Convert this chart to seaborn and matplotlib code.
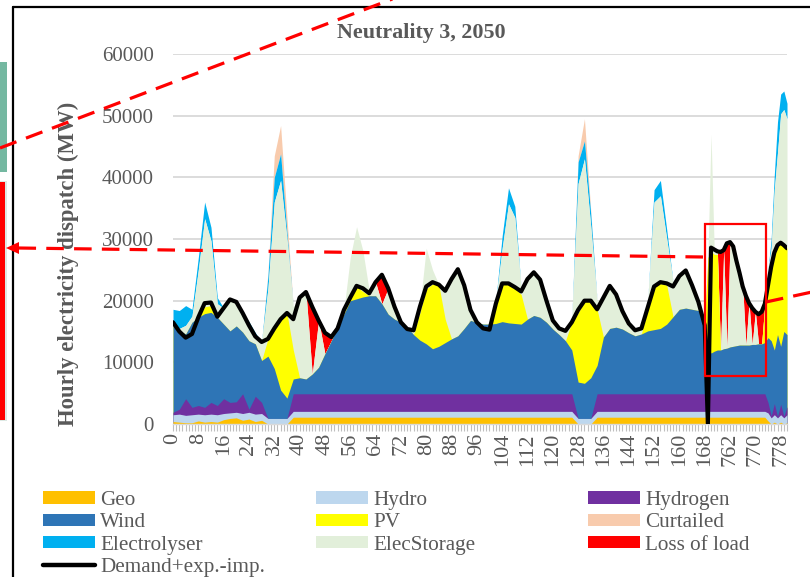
import numpy as np
import matplotlib
matplotlib.use("Agg")
import matplotlib.pyplot as plt
import seaborn as sns
from matplotlib.lines import Line2D
from matplotlib.patches import Rectangle, Polygon, Patch

# ---------------- data ----------------
# x-axis categories (hour ids): first week, then hours 755..780
hours = list(range(0, 169)) + list(range(755, 781))
# hours at which the values below were read
sample_hours = list(range(0, 169, 2)) + list(range(755, 781))

demand = [
    16500, 15000, 14000, 14600, 17300, 19600, 19700, 17400, 18800, 20200,
    19800, 18000, 16000, 14200, 13300, 13800, 15500, 17000, 18000, 17000,
    20500, 21400, 19000, 16800, 14800, 14100, 15500, 18500, 20500, 22400,
    22000, 21200, 23000, 24200, 22000, 19000, 16500, 15400, 15200, 19000,
    22300, 23000, 22600, 21600, 23500, 25100, 22500, 18500, 16500, 15500,
    15300, 19500, 22800, 22800, 22200, 21500, 23500, 24600, 23400, 20000,
    16800, 15500, 15100, 16500, 18500, 20000, 20000, 18600, 20500, 22400,
    21000, 18300, 16300, 15200, 15500, 18900, 22300, 23000, 22800, 22300,
    24000, 24900, 22500, 19800, 16000,
    0, 28600, 28300, 28000, 27900, 28200, 29300, 29500, 28800, 26500,
    24500, 22300, 20800, 19600, 18800, 18200, 17800, 18200, 19500, 22500,
    25500, 27800, 29000, 29400, 29000, 28500,
]

geo = [
    400, 300, 200, 200, 500, 300, 400, 300, 700, 900,
    1000, 600, 800, 400, 600, 0, 0, 0, 0, 1100,
    1100, 1100, 1100, 1100, 1100, 1100, 1100, 1100, 1100, 1100,
    1100, 1100, 1100, 1100, 1100, 1100, 1100, 1100, 1100, 1100,
    1100, 1100, 1100, 1100, 1100, 1100, 1100, 1100, 1100, 1100,
    1100, 1100, 1100, 1100, 1100, 1100, 1100, 1100, 1100, 1100,
    1100, 1100, 1100, 1100, 0, 0, 0, 1100, 1100, 1100,
    1100, 1100, 1100, 1100, 1100, 1100, 1100, 1100, 1100, 1100,
    1100, 1100, 1100, 1100, 1100,
    1100, 1100, 1100, 1100, 1100, 1100, 1100, 1100, 1100, 1100,
    1100, 1100, 1100, 1100, 1100, 1100, 1100, 1100, 1100, 500,
    0, 300, 0, 300, 0, 200,
]

hydro = [
    1100, 1300, 1200, 1300, 1100, 1200, 1200, 1200, 1000, 900,
    900, 1100, 1100, 1200, 1100, 900, 900, 900, 900, 950,
    950, 950, 950, 950, 950, 950, 950, 950, 950, 950,
    950, 950, 950, 950, 950, 950, 950, 950, 950, 950,
    950, 950, 950, 950, 950, 950, 950, 950, 950, 950,
    950, 950, 950, 950, 950, 950, 950, 950, 950, 950,
    950, 950, 950, 950, 900, 900, 900, 950, 950, 950,
    950, 950, 950, 950, 950, 950, 950, 950, 950, 950,
    950, 950, 950, 950, 950,
    950, 950, 950, 950, 950, 950, 950, 950, 950, 950,
    950, 950, 950, 950, 950, 950, 950, 950, 950, 1300,
    1000, 1200, 1000, 1200, 1000, 1300,
]

hydrogen = [
    400, 800, 2700, 1200, 1400, 1200, 1900, 1500, 2400, 1700,
    1700, 3200, 500, 2900, 1800, 0, 0, 0, 0, 2850,
    2850, 2850, 2850, 2850, 2850, 2850, 2850, 2850, 2850, 2850,
    2850, 2850, 2850, 2850, 2850, 2850, 2850, 2850, 2850, 2850,
    2850, 2850, 2850, 2850, 2850, 2850, 2850, 2850, 2850, 2850,
    2850, 2850, 2850, 2850, 2850, 2850, 2850, 2850, 2850, 2850,
    2850, 2850, 2850, 2850, 0, 0, 0, 2850, 2850, 2850,
    2850, 2850, 2850, 2850, 2850, 2850, 2850, 2850, 2850, 2850,
    2850, 2850, 2850, 2850, 2850,
    2850, 2850, 2850, 2850, 2850, 2850, 2850, 2850, 2850, 2850,
    2850, 2850, 2850, 2850, 2850, 2850, 2850, 2850, 2850, 1700,
    300, 1800, 200, 1700, 300, 1300,
]

# top edge of the wind area in the stacked chart
wind_level = [
    16200, 15100, 14600, 16500, 17300, 17900, 18100, 17300, 16200, 15100,
    15900, 14900, 13500, 13000, 10300, 11000, 9000, 5500, 4200, 7300,
    7500, 7300, 8100, 9200, 11400, 13500, 15700, 17800, 20000, 20300,
    20600, 20800, 20800, 19500, 17800, 17000, 16500, 15700, 14500, 13600,
    13000, 12200, 12600, 13200, 13800, 14300, 15500, 16800, 16500, 16200,
    16200, 16300, 16600, 16400, 16300, 16200, 17000, 17600, 17300, 16500,
    15400, 14500, 13500, 12000, 6800, 6600, 7500, 9500, 14100, 15500,
    15700, 15400, 14800, 14300, 14600, 15100, 15300, 15500, 16200, 17400,
    18600, 18800, 18600, 18400, 17000,
    12500, 11500, 11800, 12000, 12000, 12200, 12300, 12500, 12600, 12700,
    12800, 12800, 12800, 12800, 12900, 12900, 13000, 13000, 13200, 14000,
    13500, 12000, 14500, 12600, 15000, 14500,
]

pv = [
    0, 0, 0, 0, 0, 1100, 1100, 0, 0, 0,
    0, 0, 0, 0, 0, 2800, 6500, 11500, 13800, 4700,
    0, 0, 0, 0, 0, 0, 0, 0, 600, 2000,
    900, 0, 0, 0, 0, 0, 0, 0, 0, 4400,
    8900, 10500, 9900, 3800, 0, 0, 0, 0, 0, 0,
    0, 3200, 6200, 6400, 5700, 4800, 0, 0, 0, 0,
    0, 0, 0, 4500, 11200, 13400, 12500, 9100, 0, 0,
    0, 0, 0, 0, 0, 3800, 7000, 7300, 6300, 0,
    0, 0, 0, 0, 0,
    14500, 16500, 15700, 15500, 0, 0, 0, 0, 0, 0,
    0, 0, 0, 0, 0, 0, 0, 0, 6300, 8500,
    12000, 15800, 14500, 16800, 14000, 14000,
]

# top edge of the ElecStorage area in the stacked chart
storage_level = [
    16200, 15500, 16000, 17500, 25000, 33300, 29700, 19500, 18800, 20200,
    19800, 18000, 16000, 14200, 13300, 22000, 36000, 39500, 30000, 19000,
    20500, 21400, 8100, 16800, 11400, 13500, 15700, 18500, 27000, 32000,
    28100, 21600, 23000, 19500, 22000, 19000, 16500, 15700, 15200, 19000,
    28500, 25000, 22600, 21600, 23500, 25100, 22500, 18500, 16500, 16200,
    16200, 20000, 28500, 35700, 33500, 22000, 23500, 24600, 23400, 20000,
    16800, 15500, 15100, 17000, 39000, 43000, 32000, 20000, 20500, 22400,
    21000, 18300, 16300, 15200, 15500, 20000, 36000, 37000, 30000, 23000,
    24000, 24900, 22500, 19800, 17000,
    27000, 47000, 28300, 28000, 12000, 28200, 12300, 29500, 28800, 26500,
    24500, 22300, 12800, 19600, 12900, 18200, 13000, 13000, 19500, 25000,
    28500, 38000, 44000, 50300, 51000, 49500,
]

loss_of_load = [
    0, 0, 0, 0, 0, 0, 0, 0, 0, 0,
    0, 0, 0, 0, 0, 0, 0, 0, 0, 0,
    0, 0, 10900, 0, 3400, 600, 0, 0, 0, 0,
    0, 0, 0, 4700, 0, 0, 0, 0, 0, 0,
    0, 0, 0, 0, 0, 0, 0, 0, 0, 0,
    0, 0, 0, 0, 0, 0, 0, 0, 0, 0,
    0, 0, 0, 0, 0, 0, 0, 0, 0, 0,
    0, 0, 0, 0, 0, 0, 0, 0, 0, 0,
    0, 0, 0, 0, 0,
    0, 0, 0, 0, 15900, 0, 17000, 0, 0, 0,
    0, 0, 8000, 0, 5900, 0, 4800, 5200, 0, 0,
    0, 0, 0, 0, 0, 0,
]

electrolyser = [
    2400, 2900, 3200, 1100, 2000, 2700, 2200, 1000, 0, 0,
    0, 0, 600, 600, 0, 2000, 4000, 4300, 1000, 0,
    0, 0, 0, 0, 0, 0, 0, 0, 0, 0,
    0, 0, 0, 0, 0, 0, 0, 0, 0, 0,
    0, 0, 0, 0, 0, 0, 0, 0, 0, 0,
    0, 0, 2000, 2600, 1800, 0, 0, 0, 0, 0,
    0, 0, 0, 0, 3500, 2900, 2000, 0, 0, 0,
    0, 0, 0, 0, 0, 0, 2000, 2500, 1500, 0,
    0, 0, 0, 0, 0,
    0, 0, 0, 0, 0, 0, 0, 0, 0, 0,
    0, 0, 0, 0, 0, 0, 0, 0, 0, 0,
    1500, 2500, 5000, 3200, 3000, 2500,
]

curtailed = [
    0, 0, 0, 0, 0, 0, 0, 0, 0, 0,
    0, 0, 0, 0, 0, 500, 3500, 4600, 2500, 0,
    0, 0, 0, 0, 0, 0, 0, 0, 0, 0,
    0, 0, 0, 0, 0, 0, 0, 0, 0, 0,
    0, 0, 0, 0, 0, 0, 0, 0, 0, 0,
    0, 0, 0, 0, 0, 0, 0, 0, 0, 0,
    0, 0, 0, 0, 1000, 3600, 500, 0, 0, 0,
    0, 0, 0, 0, 0, 0, 0, 0, 0, 0,
    0, 0, 0, 0, 0,
    0, 0, 0, 0, 0, 0, 0, 0, 0, 0,
    0, 0, 0, 0, 0, 0, 0, 0, 0, 0,
    0, 0, 0, 0, 0, 0,
]

series_colors = {
    "Geo": "#FFC000", "Hydro": "#BDD7EE", "Hydrogen": "#7030A0",
    "Wind": "#2E75B6", "PV": "#FFFF00", "Curtailed": "#F8CBAD",
    "Electrolyser": "#00B0F0", "ElecStorage": "#E2EFDA", "Loss of load": "#FF0000",
}
demand_name = "Demand+exp.-imp."
title = "Neutrality 3, 2050"
y_label = "Hourly electricity dispatch (MW)"
y_ticks = [0, 10000, 20000, 30000, 40000, 50000, 60000]

# ---------------- style ----------------
sns.set_theme(style="white")
plt.rcParams["font.family"] = ["Liberation Serif", "DejaVu Serif"]
TXT = "#595959"

W_PX, H_PX = 810, 577
fig = plt.figure(figsize=(W_PX / 100, H_PX / 100), dpi=100)
fig.patch.set_facecolor("white")


def fpos(xp, yp):
    return xp / W_PX, 1 - yp / H_PX


ax = fig.add_axes([173 / W_PX, 1 - 424 / H_PX, (787 - 173) / W_PX, (424 - 54) / H_PX])
ax.set_facecolor("white")

x = np.array([hours.index(h) for h in sample_hours])
g_top = np.array(geo, float)
hy_top = g_top + np.array(hydro, float)
h2_top = hy_top + np.array(hydrogen, float)
w_top = np.maximum(np.array(wind_level, float), h2_top)
pv_top = w_top + np.array(pv, float)
st_top = np.maximum(np.array(storage_level, float), pv_top)
lol_top = st_top + np.array(loss_of_load, float)
el_top = lol_top + np.array(electrolyser, float)
cu_top = el_top + np.array(curtailed, float)

# thin upper series as bands, then the bulk layers from zero (highest first)
ax.fill_between(x, el_top, cu_top, color=series_colors["Curtailed"], linewidth=0, zorder=2.0)
ax.fill_between(x, lol_top, el_top, color=series_colors["Electrolyser"], linewidth=0, zorder=2.01)
ax.fill_between(x, st_top, lol_top, color=series_colors["Loss of load"], linewidth=0, zorder=2.02)
bulk = [(st_top, "ElecStorage"), (pv_top, "PV"), (w_top, "Wind"),
        (h2_top, "Hydrogen"), (hy_top, "Hydro"), (g_top, "Geo")]
for i, (top, name) in enumerate(bulk):
    ax.fill_between(x, 0, top, color=series_colors[name], linewidth=0, zorder=2.1 + i * 0.01)

sns.lineplot(x=x, y=np.array(demand, float), ax=ax, color="black", linewidth=3.0,
             sort=False, estimator=None, legend=False, zorder=5)

ax.set_xlim(0, len(hours) - 1)
ax.set_ylim(0, 60000)
ax.set_yticks(y_ticks)
ax.set_yticklabels([str(v) for v in y_ticks])
ax.yaxis.grid(True, color="#D9D9D9", linewidth=1.3)
ax.xaxis.grid(False)
ax.set_axisbelow(True)
for side in ["top", "right", "left"]:
    ax.spines[side].set_visible(False)
ax.spines["bottom"].set_color("#D9D9D9")
ax.spines["bottom"].set_linewidth(1.0)

major = list(range(0, len(hours), 8))
ax.set_xticks(major)
ax.set_xticklabels([str(hours[i]) for i in major], rotation=90)
ax.set_xticks(range(len(hours)), minor=True)
ax.tick_params(axis="x", which="both", direction="out", length=5, width=0.8,
               color="#BFBFBF", labelsize=16, labelcolor=TXT, pad=1.5, bottom=True)
ax.tick_params(axis="y", length=0, labelsize=15, labelcolor=TXT, pad=14)
ax.set_xlabel("")
ax.set_ylabel("")

fig.text(*fpos(421, 33), title, ha="center", va="center", fontsize=15.8,
         fontweight="bold", color=TXT)
fig.text(*fpos(68, 264), y_label, ha="center", va="center", rotation=90,
         fontsize=16.4, fontweight="bold", color=TXT)

# ---------------- legend (3 columns, row-wise order) ----------------
def ph(name):
    return Patch(facecolor=series_colors[name], edgecolor="none")

columns = [
    ([ph("Geo"), ph("Wind"), ph("Electrolyser"), Line2D([], [], color="black", lw=3.2)],
     ["Geo", "Wind", "Electrolyser", demand_name], 43),
    ([ph("Hydro"), ph("PV"), ph("ElecStorage")], ["Hydro", "PV", "ElecStorage"], 316),
    ([ph("Hydrogen"), ph("Curtailed"), ph("Loss of load")],
     ["Hydrogen", "Curtailed", "Loss of load"], 588),
]
for handles, labels, xp in columns:
    fig.legend(handles, labels, loc="upper left", bbox_to_anchor=fpos(xp, 491),
               frameon=False, fontsize=15.2, labelcolor=TXT, handlelength=2.45,
               handleheight=0.5, handletextpad=0.25, labelspacing=0.16,
               borderpad=0, borderaxespad=0)

# ---------------- annotation overlays ----------------
T = fig.transFigure
fig.add_artist(Line2D([13 / W_PX, 1.0], [1 - 7 / H_PX] * 2, color="black", lw=1.6, transform=T))
fig.add_artist(Line2D([13 / W_PX] * 2, [1 - 7 / H_PX, 0], color="black", lw=1.6, transform=T))
fig.add_artist(Rectangle(fpos(0, 172), 7 / W_PX, 110 / H_PX, facecolor="#74B8A1",
                         edgecolor="none", transform=T))
fig.add_artist(Rectangle(fpos(0, 421), 7 / W_PX, 240 / H_PX, facecolor="#DDE9E4",
                         edgecolor="none", transform=T))
fig.add_artist(Rectangle(fpos(0, 420), 5 / W_PX, 238 / H_PX, facecolor="#FF0000",
                         edgecolor="none", transform=T))

dash = (0, (5.5, 3.2))
def dline(p0, p1):
    (x0, y0), (x1, y1) = fpos(*p0), fpos(*p1)
    fig.add_artist(Line2D([x0, x1], [y0, y1], color="#FF0000", lw=2.3, linestyle=dash,
                          transform=T, zorder=10))

dline((703, 257), (18, 248))
dline((0, 148), (395, -2))
dline((766, 302), (812, 292))
fig.add_artist(Polygon([fpos(6, 248), fpos(19, 242), fpos(19, 254)], closed=True,
                       facecolor="#FF0000", edgecolor="none", transform=T, zorder=10))
fig.add_artist(Rectangle(fpos(705, 376), 61 / W_PX, 152 / H_PX, fill=False,
                         edgecolor="#FF0000", lw=1.6, transform=T, zorder=10))

fig.savefig("out.png", dpi=100, facecolor="white")
